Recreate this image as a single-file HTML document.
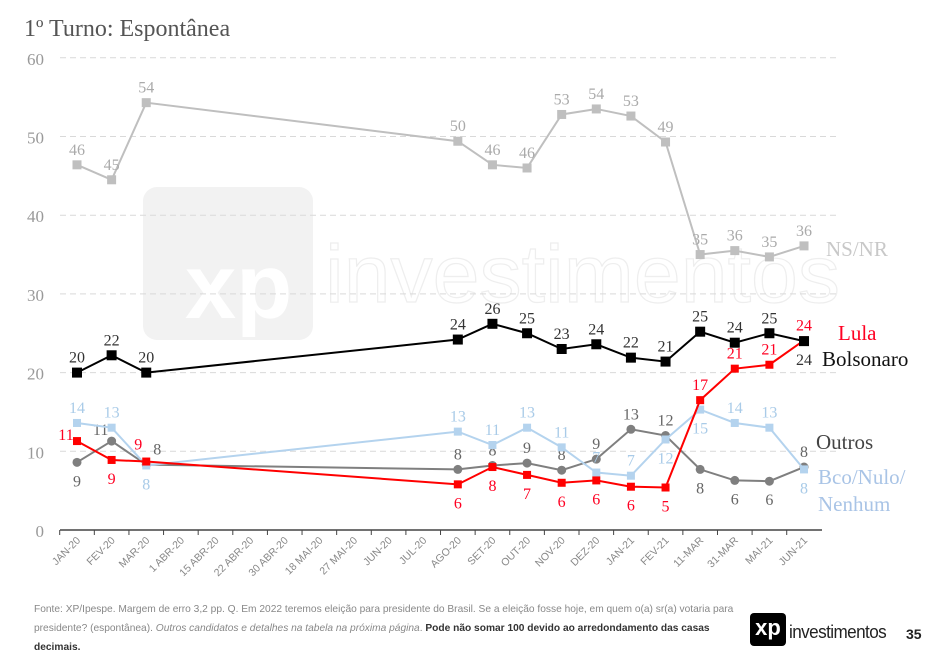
<!DOCTYPE html>
<html><head><meta charset="utf-8"><style>
body{margin:0;background:#fff;width:942px;height:657px;overflow:hidden;font-family:"Liberation Sans",sans-serif}
svg text{font-family:"Liberation Serif",serif}
</style></head><body>
<svg id="c" width="942" height="657" xmlns="http://www.w3.org/2000/svg" style="position:absolute;left:0;top:0">
<text x="24" y="36" font-size="24" fill="#555">1º Turno: Espontânea</text>
<g>
<rect x="143" y="187" width="170" height="153" rx="14" fill="#f2f2f2"/>
<text x="185" y="318" font-size="92" font-weight="bold" fill="#fff" style="font-family:'Liberation Sans',sans-serif">xp</text>
<text x="325" y="302" font-size="82" textLength="515" lengthAdjust="spacingAndGlyphs" fill="none" stroke="#eeeeee" stroke-width="1.2" style="font-family:'Liberation Sans',sans-serif">investimentos</text>
</g>
<g id="grid"></g><g id="axes"></g><g id="series"></g>
</svg>
<div style="position:absolute;left:34px;top:600px;width:700px;font-size:10.2px;line-height:19px;color:#888">Fonte: XP/Ipespe. Margem de erro 3,2 pp. Q. Em 2022 teremos eleição para presidente do Brasil. Se a eleição fosse hoje, em quem o(a) sr(a) votaria para presidente? (espontânea). <i>Outros candidatos e detalhes na tabela na próxima página</i>. <b style="color:#333">Pode não somar 100 devido ao arredondamento das casas decimais.</b></div>
<div style="position:absolute;left:750px;top:613px;width:36px;height:33px;background:#000;border-radius:4px;color:#fff;font-weight:bold;font-size:22px;line-height:30px;text-align:center">xp</div>
<div style="position:absolute;left:789px;top:622px;font-size:18px;color:#222;letter-spacing:-0.6px;transform:scaleX(0.95);transform-origin:left">investimentos</div>
<div style="position:absolute;left:906px;top:626px;font-size:14px;font-weight:bold;color:#222">35</div>
<script>
const categories=["JAN-20","FEV-20","MAR-20","1 ABR-20","15 ABR-20","22 ABR-20","30 ABR-20","18 MAI-20","27 MAI-20","JUN-20","JUL-20","AGO-20","SET-20","OUT-20","NOV-20","DEZ-20","JAN-21","FEV-21","11-MAR","31-MAR","MAI-21","JUN-21"];
const yTicks=[0,10,20,30,40,50,60];
const N=null;
const nsnr=[46.4,44.5,54.3,N,N,N,N,N,N,N,N,49.4,46.4,46,52.8,53.5,52.6,49.3,35,35.5,34.7,36.1];
const nsnrLbl=[46,45,54,N,N,N,N,N,N,N,N,50,46,46,53,54,53,49,35,36,35,36];
const bolso=[20,22.2,20,N,N,N,N,N,N,N,N,24.2,26.2,25,23,23.6,21.9,21.4,25.2,23.8,25,24];
const bolsoLbl=[20,22,20,N,N,N,N,N,N,N,N,24,26,25,23,24,22,21,25,24,25,24];
const lula=[11.3,8.9,8.7,N,N,N,N,N,N,N,N,5.8,8,7,6,6.3,5.5,5.4,16.5,20.5,21,24.1];
const lulaLbl=[11,9,9,N,N,N,N,N,N,N,N,6,8,7,6,6,6,5,17,21,21,24];
const outros=[8.6,11.3,8.3,N,N,N,N,N,N,N,N,7.7,8.2,8.5,7.6,9,12.8,12,7.7,6.3,6.2,8];
const outrosLbl=[9,11,8,N,N,N,N,N,N,N,N,8,8,9,8,9,13,12,8,6,6,8];
const bco=[13.6,13,8.2,N,N,N,N,N,N,N,N,12.5,10.8,13,10.5,7.3,6.9,11.5,15.3,13.6,13,7.7];
const bcoLbl=[14,13,8,N,N,N,N,N,N,N,N,13,11,13,11,7,7,12,15,14,13,8];
const NS="http://www.w3.org/2000/svg";
const X=i=>77+i*34.62, Y=v=>530-v*7.87;
function el(t,a,p){const e=document.createElementNS(NS,t);for(const k in a)e.setAttribute(k,a[k]);p.appendChild(e);return e;}
const grid=document.getElementById('grid'),axes=document.getElementById('axes'),ser=document.getElementById('series');
yTicks.forEach(v=>{
  if(v>0){const g=el('line',{x1:60,x2:840,y1:Y(v),y2:Y(v),stroke:'#d9d9d9','stroke-dasharray':'6,4'},grid);
  
  }
  const t=el('text',{x:44,y:Y(v)+7,'text-anchor':'end','font-size':17,fill:'#999'},axes);t.textContent=v;
  
  
});
const ax=el('line',{x1:60,x2:822,y1:530,y2:530,stroke:'#444','stroke-width':1.5},axes);


categories.forEach((c,i)=>{
  const tk=el('line',{x1:X(i)-17.3,x2:X(i)-17.3,y1:530,y2:535,stroke:'#444'},axes);
  
  
  const t=el('text',{transform:`translate(${X(i)+4},541) rotate(-45)`,'text-anchor':'end','font-size':10.5,fill:'#888',style:"font-family:'Liberation Sans',sans-serif"},axes);t.textContent=c;
  
  
});
function draw(name,vals,lbls,color,lblColor,w,marker,sz,below,shift){
  const g=el('g',{},ser);
  
  
  const pts=[];vals.forEach((v,i)=>{if(v!==null)pts.push([X(i),Y(v),i,v]);});
  const pl=el('polyline',{points:pts.map(p=>p[0]+','+p[1]).join(' '),fill:'none',stroke:color,'stroke-width':w},g);
  
  
  pts.forEach(p=>{
    let m;
    if(marker==='c')m=el('circle',{cx:p[0],cy:p[1],r:sz/2,fill:color},g);
    else m=el('rect',{x:p[0]-sz/2,y:p[1]-sz/2,width:sz,height:sz,fill:color},g);
    
    
    const b=below.includes(p[2]);
    const s=(shift&&shift[p[2]])||[0,0];
    const t=el('text',{x:p[0]+s[0],y:(b?p[1]+24:p[1]-10)+s[1],'text-anchor':'middle','font-size':16,fill:lblColor},g);
    t.textContent=lbls[p[2]];
    
    
  });
}
draw('nsnr',nsnr,nsnrLbl,'#bfbfbf','#aaa',2,'s',9,[]);
draw('outros',outros,outrosLbl,'#7f7f7f','#666',2,'c',9,[0,18,19,20],{1:[-11,4],2:[11,0]});
draw('bco',bco,bcoLbl,'#b4d3ee','#a9cbe8',2,'s',8,[2,17,18,21]);
draw('lula',lula,lulaLbl,'#ff0000','#ff0022',2,'s',8,[1,11,12,13,14,15,16,17],{0:[-11,9],2:[-8,-2]});
draw('bolsonaro',bolso,bolsoLbl,'#000','#333',2,'s',10,[21]);
[['NS/NR',826,256,'#c8c8c8'],['Lula',838,340,'#ff0022'],['Bolsonaro',822,366,'#111'],['Outros',816,449,'#444'],['Bco/Nulo/',818,484,'#a9c4e6'],['Nenhum',818,511,'#a9c4e6']].forEach(s=>{
  const t=el('text',{x:s[1],y:s[2],'font-size':21,fill:s[3]},ser);t.textContent=s[0];
  
  
});
</script>
</body></html>
